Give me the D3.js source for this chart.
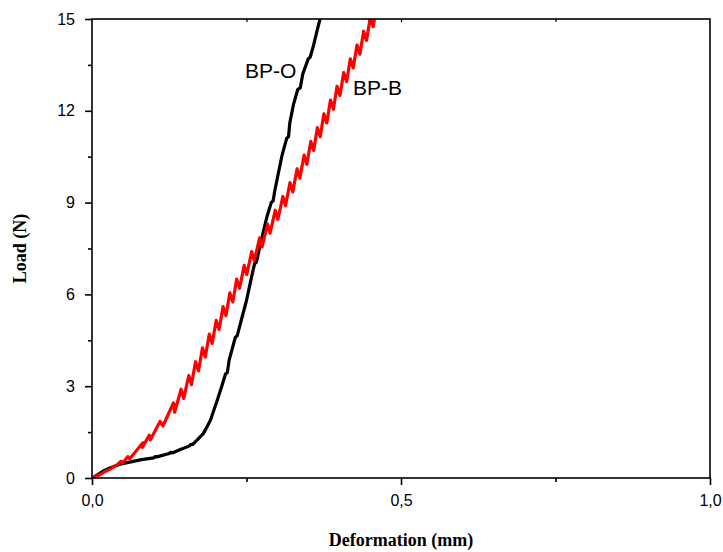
<!DOCTYPE html>
<html><head><meta charset="utf-8">
<script src="https://cdn.jsdelivr.net/npm/d3@7"></script>
<style>body{margin:0;background:#fff}svg{display:block}</style>
</head><body>
<svg id="c" width="723" height="552"></svg>
<script>
// Data (deformation mm, load N)
const bpB = [
 [0,0],[0.01,0.08],[0.02,0.2],[0.03,0.3],[0.04,0.42],[0.047,0.55],[0.05,0.5],[0.058,0.7],[0.061,0.62],
 [0.066,0.75],[0.0824,1.15],[0.0815,1.0],[0.0926,1.4],[0.0945,1.25],[0.1101,1.85],[0.1148,1.7],[0.1317,2.45],
 [0.1337,2.15],[0.1442,2.9],[0.1483,2.6],[0.1567,3.35],[0.1609,3.05],[0.1676,3.8],
 [0.1723,3.5],[0.1787,4.25],[0.1832,3.95],[0.1898,4.7],[0.1944,4.4],[0.201,5.15],
 [0.2056,4.85],[0.2121,5.6],[0.2167,5.3],[0.2231,6.05],[0.2278,5.75],[0.2342,6.5],
 [0.2388,6.2],[0.2463,6.95],[0.2505,6.65],[0.2584,7.4],[0.2626,7.1],[0.2712,7.85],
 [0.2752,7.55],[0.2841,8.3],[0.2882,8.0],[0.2965,8.75],[0.3007,8.45],[0.3089,9.2],
 [0.3131,8.9],[0.3204,9.65],[0.3249,9.35],[0.3318,10.1],[0.3363,9.8],[0.3432,10.55],
 [0.3477,10.25],[0.354,11.0],[0.3587,10.7],[0.3646,11.45],[0.3693,11.15],[0.3752,11.9],
 [0.38,11.6],[0.3859,12.35],[0.3906,12.05],[0.3965,12.8],[0.4012,12.5],[0.4073,13.25],
 [0.412,12.95],[0.418,13.7],[0.4227,13.4],[0.4288,14.15],[0.4335,13.85],[0.4395,14.6],
 [0.4442,14.3],[0.4503,15.05],[0.455,14.75],[0.461,15.5]
];
const bpO = [
 [0,0],[0.01,0.12],[0.02,0.25],[0.029,0.33],[0.045,0.45],[0.061,0.52],[0.08,0.6],
 [0.1,0.66],[0.102,0.7],[0.105,0.69],[0.125,0.8],[0.127,0.84],[0.13,0.82],[0.142,0.92],
 [0.158,1.05],[0.16,1.1],[0.163,1.1],[0.17,1.24],[0.18,1.45],
 [0.186,1.67],[0.192,1.9],[0.196,2.15],[0.202,2.5],[0.21,3.0],[0.216,3.4],[0.219,3.45],
 [0.222,3.86],[0.232,4.6],[0.235,4.65],[0.243,5.27],[0.25,5.8],[0.256,6.37],
 [0.263,7.0],[0.266,7.05],[0.272,7.6],[0.283,8.53],[0.29,9.0],[0.293,9.05],[0.296,9.41],
 [0.307,10.5],[0.315,11.1],[0.318,11.15],[0.32,11.6],[0.326,12.2],[0.333,12.7],
 [0.337,12.75],[0.341,13.2],[0.35,13.7],[0.353,13.75],[0.358,14.1],[0.364,14.6],[0.369,15.0],[0.371,15.2]
];
const xTicks = [0, 0.5, 1.0];
const xTickLabels = ["0,0", "0,5", "1,0"];
const xMinor = [0.25, 0.75];
const yTicks = [0, 3, 6, 9, 12, 15];
const yMinor = [1.5, 4.5, 7.5, 10.5, 13.5];

const svg = d3.select("#c");
const L = 92, R = 710, T = 19, B = 478;
const x = d3.scaleLinear().domain([0, 1]).range([L, R]);
const y = d3.scaleLinear().domain([0, 15]).range([B, T]);

svg.append("defs").append("clipPath").attr("id","clip")
  .append("rect").attr("x",L).attr("y",T).attr("width",R-L).attr("height",B-T);

const line = d3.line().x(d=>x(d[0])).y(d=>y(d[1]));
const g = svg.append("g").attr("clip-path","url(#clip)");
g.append("path").datum(bpO).attr("d",line).attr("fill","none").attr("stroke","#000").attr("stroke-width",3.2).attr("stroke-linejoin","round");
g.append("path").datum(bpB).attr("d",line).attr("fill","none").attr("stroke","#ff0000").attr("stroke-width",3.2).attr("stroke-linejoin","round");

// frame
svg.append("rect").attr("x",L).attr("y",T).attr("width",R-L).attr("height",B-T)
  .attr("fill","none").attr("stroke","#000").attr("stroke-width",1.6);

const font = "'Liberation Sans', Arial, sans-serif";
// bottom axis
const xAxis = d3.axisBottom(x).tickValues(xTicks).tickSize(7).tickPadding(10)
  .tickFormat((d,i)=>xTickLabels[i]);
const gx = svg.append("g").attr("transform",`translate(0,${B})`).call(xAxis);
gx.select(".domain").remove();
gx.selectAll("line").attr("stroke","#000").attr("stroke-width",1.6);
gx.selectAll("text").attr("font-family",font).attr("font-size",16).attr("fill","#000");
const gxm = svg.append("g").attr("transform",`translate(0,${B})`)
  .call(d3.axisBottom(x).tickValues(xMinor).tickSize(4).tickFormat(""));
gxm.select(".domain").remove();
gxm.selectAll("line").attr("stroke","#000").attr("stroke-width",1.6);

// left axis
const yAxis = d3.axisLeft(y).tickValues(yTicks).tickSize(7).tickPadding(10).tickFormat(d3.format("d"));
const gy = svg.append("g").attr("transform",`translate(${L},0)`).call(yAxis);
gy.select(".domain").remove();
gy.selectAll("line").attr("stroke","#000").attr("stroke-width",1.6);
gy.selectAll("text").attr("font-family",font).attr("font-size",16).attr("fill","#000");
const gym = svg.append("g").attr("transform",`translate(${L},0)`)
  .call(d3.axisLeft(y).tickValues(yMinor).tickSize(4).tickFormat(""));
gym.select(".domain").remove();
gym.selectAll("line").attr("stroke","#000").attr("stroke-width",1.6);

// top small ticks
const gt = svg.append("g").attr("transform",`translate(0,${T})`)
  .call(d3.axisBottom(x).tickValues([0.25,0.5,0.75]).tickSize(3).tickFormat(""));
gt.select(".domain").remove();
gt.selectAll("line").attr("stroke","#000").attr("stroke-width",1.2);

// axis titles
const serif = "'Liberation Serif', 'Times New Roman', serif";
svg.append("text").attr("x",(L+R)/2).attr("y",546).attr("text-anchor","middle")
  .attr("font-family",serif).attr("font-weight","bold").attr("font-size",18).text("Deformation (mm)");
svg.append("text").attr("transform",`translate(26,${(T+B)/2}) rotate(-90)`).attr("text-anchor","middle")
  .attr("font-family",serif).attr("font-weight","bold").attr("font-size",18).text("Load (N)");

// curve labels
svg.append("text").attr("x",245).attr("y",78).attr("font-family",font).attr("font-size",21).text("BP-O");
svg.append("text").attr("x",353).attr("y",95).attr("font-family",font).attr("font-size",21).text("BP-B");
</script>
</body></html>
